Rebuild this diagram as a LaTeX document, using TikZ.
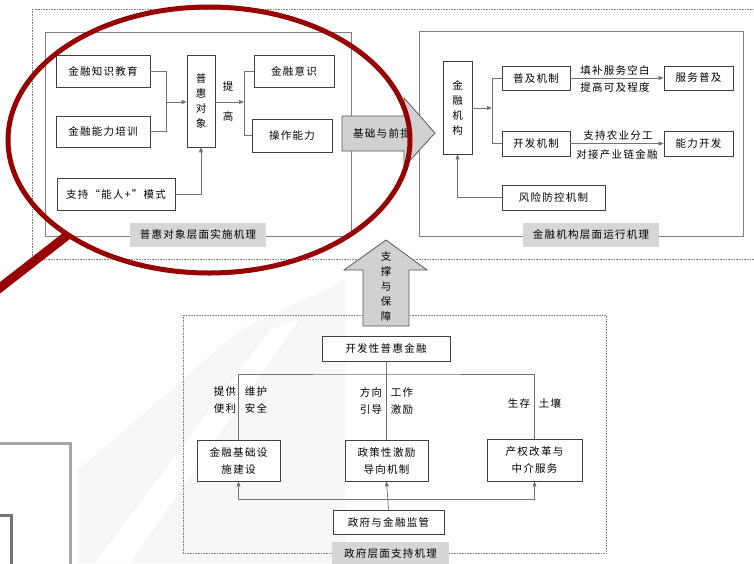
\documentclass[tikz,border=0pt]{standalone}
\usepackage{fontspec}
\newfontfamily\cjk[LetterSpace=12]{Noto Sans CJK SC}
\usetikzlibrary{arrows.meta}
\definecolor{magred}{RGB}{150,0,0}
\definecolor{bgshade}{RGB}{246,247,249}
\tikzset{
  x=1pt,y=-1pt,
  every node/.style={font=\cjk\fontsize{10.5}{15}\selectfont, inner sep=0pt},
  box/.style={draw=black!75, line width=0.8pt, fill=white, minimum width=#1, align=center},
  vbox/.style={draw=black!75, line width=0.8pt, fill=white, minimum width=28, minimum height=92, align=center, font=\cjk\fontsize{10.5}{15}\selectfont},
  lab/.style={fill=black!16, minimum height=24, minimum width=#1},
  frame/.style={draw=black!50, line width=0.6pt},
  dotframe/.style={draw=black!50, densely dotted, line width=0.6pt},
  conn/.style={draw=black!55, line width=0.7pt},
  arr/.style={conn, -{Triangle[length=5pt,width=4pt]}},
  bigarrow/.style={draw=black!65, line width=0.8pt, fill=black!18},
  twoline/.style={align=center, font=\cjk\fontsize{10.5}{17}\selectfont},
}
\begin{document}
\begin{tikzpicture}
\useasboundingbox (0,0) rectangle (754,563);
% background decoration
\fill[bgshade] (78,563) -- (78,470) -- (240,330) -- (345,280) -- (345,563) -- cycle;
\fill[white] (95,563) -- (270,330) -- (300,318) -- (130,563) -- cycle;
\draw[black!35, line width=3pt] (-10,443) -- (70,443) -- (70,570);
\draw[black!55, line width=3pt] (-10,515) -- (11,515) -- (11,570);
% outer dotted frame (top)
\draw[dotframe] (32,9) rectangle (770,259);
% left block
\draw[frame] (45,32) rectangle (351,236);
\node[lab=136] (ll) at (198,235) {普惠对象层面实施机理};
\node[box=94, minimum height=32] (k1) at (103,71) {金融知识教育};
\node[box=94, minimum height=31] (k2) at (103,131.5) {金融能力培训};
\node[box=118, minimum height=32] (k3) at (116,194) {支持“能人+”模式};
\node[vbox] (pu) at (201,101) {普\\惠\\对\\象};
\node[box=80, minimum height=32] (y1) at (294,71) {金融意识};
\node[box=80, minimum height=33] (y2) at (292,135.5) {操作能力};
\node (t1) at (228,87) {提};
\node (t2) at (228,116) {高};
\coordinate (j1) at (166,102);
\coordinate (j2) at (244,102);
\draw[conn] (k1.east) -| (j1);
\draw[conn] (k2.east) -| (j1);
\draw[arr] (j1) -- (pu.west |- j1);
\draw[arr] (pu.east |- j2) -- (j2);
\draw[conn] (y1.west) -| (j2);
\draw[conn] (y2.west) -| (j2);
\draw[arr] (k3.east) -| (pu.south);
% right block
\draw[frame] (419,31) rectangle (743,236);
\node[lab=136] (rl) at (591,235) {金融机构层面运行机理};
\node[vbox, minimum width=29, minimum height=93] (jg) at (457.5,107.5) {金\\融\\机\\构};
\node[box=68, minimum height=24] (pj) at (536,78) {普及机制};
\node[box=68, minimum height=25] (kf) at (536,143.5) {开发机制};
\node[box=69, minimum height=24] (fw) at (698.5,78) {服务普及};
\node[box=69, minimum height=25] (nl) at (698.5,143.5) {能力开发};
\node[box=103, minimum height=25] (fx) at (553.5,197.5) {风险防控机制};
\coordinate (j3) at (492,108);
\draw[arr] (jg.east |- j3) -- (j3);
\draw[conn] (pj.west) -| (j3);
\draw[conn] (kf.west) -| (j3);
\draw[arr] (pj.east) -- (fw.west);
\draw[arr] (kf.east) -- (nl.west);
\node (a1) at (615,70) {填补服务空白};
\node (a2) at (615,87) {提高可及程度};
\node (a3) at (618,136) {支持农业分工};
\node (a4) at (617,154) {对接产业链金融};
\draw[arr] (fx.west) -| (jg.south);
% big arrow right
\draw[bigarrow] (342,116) -- (404,116) -- (404,98) -- (435,133) -- (404,167) -- (404,151) -- (342,151) -- cycle;
\node (ba) at (382,133) {基础与前提};
% bottom block
\draw[dotframe] (183,315) rectangle (606,553);
\draw[bigarrow] (363,326) -- (363,270) -- (344,270) -- (386,240) -- (427,270) -- (409,270) -- (409,326) -- cycle;
\node[align=center] (ua) at (386,286) {支\\撑\\与\\保\\障};
\node[lab=117, minimum height=22] (bl) at (390.5,553) {政府层面支持机理};
\node[box=128, minimum height=25] (kfx) at (386,348.5) {开发性普惠金融};
\node[box=83, minimum height=41, twoline] (jc) at (238.5,460.5) {金融基础设\\施建设};
\node[box=83, minimum height=41, twoline] (zc) at (386.5,460.5) {政策性激励\\导向机制};
\node[box=95, minimum height=42, twoline] (cq) at (534.5,460) {产权改革与\\中介服务};
\node[box=111, minimum height=24] (zf) at (388.5,522) {政府与金融监管};
\coordinate (tb) at (386,374);
\coordinate (bb) at (386,499);
\draw[conn] (kfx.south) -- (zc.north -| kfx.south);
\draw[conn] (jc.north) |- (tb) -| (cq.north);
\draw[arr] (bb) -| (jc.south);
\draw[arr] (bb) -| (cq.south);
\draw[arr] (zf.north) -- (zc.south);
\node[twoline] (m1) at (225,400) {提供\\便利};
\node[twoline] (m2) at (256,400) {维护\\安全};
\node[twoline] (m3) at (371,401) {方向\\引导};
\node[twoline] (m4) at (402,401) {工作\\激励};
\node (m5) at (519,403) {生存};
\node (m6) at (550,403) {土壤};
% magnifier
\draw[magred, line width=9pt] (69,234) -- (-8,294);
\draw[magred, line width=5pt] (209,140) ellipse [x radius=201, y radius=133];
\end{tikzpicture}
\end{document}
